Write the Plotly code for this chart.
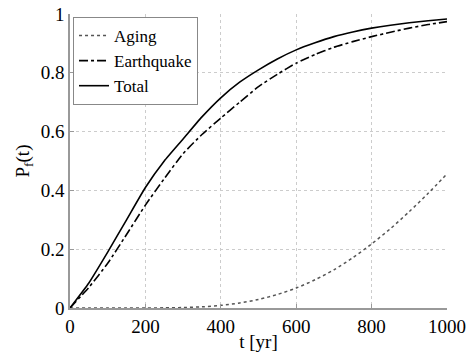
import plotly.graph_objects as go

t = [0, 50, 100, 150, 200, 250, 300, 350, 400, 450, 500, 550, 600, 650, 700, 750, 800, 850, 900, 950, 1000]
aging = [0, 0, 0, 0, 0, 0.0005, 0.0015, 0.004, 0.009, 0.017, 0.029, 0.046, 0.068, 0.096, 0.13, 0.171, 0.218, 0.27, 0.328, 0.39, 0.456]
earthquake = [0, 0.07, 0.152, 0.25, 0.35, 0.44, 0.525, 0.59, 0.646, 0.70, 0.753, 0.795, 0.833, 0.862, 0.887, 0.906, 0.923, 0.938, 0.952, 0.964, 0.974]
total = [0, 0.085, 0.19, 0.30, 0.41, 0.50, 0.575, 0.65, 0.715, 0.768, 0.81, 0.847, 0.878, 0.902, 0.923, 0.939, 0.952, 0.962, 0.970, 0.977, 0.983]

font = "Liberation Serif, Times New Roman, serif"

fig = go.Figure()
fig.add_trace(go.Scatter(x=t, y=aging, mode="lines", name="Aging",
                         line=dict(color="#555555", width=1.5, dash="dot",
                                   shape="spline", smoothing=0.8)))
fig.add_trace(go.Scatter(x=t, y=earthquake, mode="lines", name="Earthquake",
                         line=dict(color="black", width=1.6, dash="dashdot",
                                   shape="spline", smoothing=0.5)))
fig.add_trace(go.Scatter(x=t, y=total, mode="lines", name="Total",
                         line=dict(color="black", width=1.6,
                                   shape="spline", smoothing=0.5)))

fig.update_layout(
    width=468, height=352,
    margin=dict(l=70, r=21, t=14, b=44, autoexpand=False),
    paper_bgcolor="white", plot_bgcolor="white",
    font=dict(family=font, size=19, color="black"),
    showlegend=True,
    legend=dict(x=0.008, y=0.99, xanchor="left", yanchor="top",
                bordercolor="#888888", borderwidth=1, bgcolor="white",
                font=dict(family=font, size=17), tracegroupgap=0,
                itemwidth=30),
    xaxis=dict(range=[0, 1000], tick0=0, dtick=200, showgrid=True,
               gridcolor="#cccccc", griddash="dot", gridwidth=1,
               showline=True, linecolor="#999999", linewidth=1.5,
               ticks="inside", ticklen=4, tickcolor="#999999",
               zeroline=False, automargin=False, ticklabeloverflow="allow",
               tickfont=dict(family=font, size=19),
               title=dict(text="t [yr]", standoff=0, font=dict(family=font, size=19))),
    yaxis=dict(range=[0, 1], tick0=0, dtick=0.2, showgrid=True,
               gridcolor="#cccccc", griddash="dot", gridwidth=1,
               showline=True, linecolor="#999999", linewidth=1.5,
               ticks="inside", ticklen=4, tickcolor="#999999",
               zeroline=False, automargin=False, ticklabeloverflow="allow",
               tickfont=dict(family=font, size=19),
               title=dict(text="P<sub>f</sub>(t)", standoff=6, font=dict(family=font, size=19))),
)

fig.write_html("out.html")
